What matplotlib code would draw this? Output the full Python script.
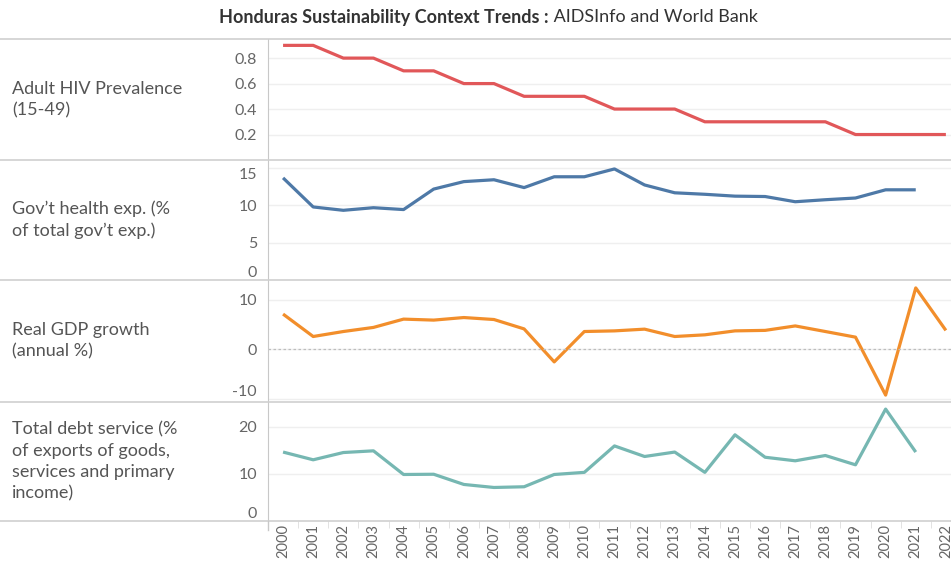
import numpy as np
import matplotlib.pyplot as plt
from matplotlib.lines import Line2D
from matplotlib.ticker import MultipleLocator

plt.rcParams['font.family'] = ['Lato', 'DejaVu Sans']

years = list(range(2000, 2023))

hiv_prev = [0.9, 0.9, 0.8, 0.8, 0.7, 0.7, 0.6, 0.6, 0.5, 0.5, 0.5, 0.4, 0.4, 0.4,
            0.3, 0.3, 0.3, 0.3, 0.3, 0.2, 0.2, 0.2, 0.2]
gov_health = [13.7, 9.8, 9.35, 9.7, 9.45, 12.2, 13.2, 13.45, 12.4, 13.85, 13.85, 14.9,
              12.75, 11.7, 11.5, 11.25, 11.2, 10.5, 10.77, 11.0, 12.1, 12.1]
gdp_growth = [7.1, 2.56, 3.57, 4.4, 6.08, 5.88, 6.4, 6.0, 4.1, -2.58, 3.57, 3.7, 4.05,
              2.56, 2.9, 3.7, 3.8, 4.7, 3.57, 2.43, -9.3, 12.4, 3.8]
debt_service = [14.6, 12.96, 14.5, 14.86, 9.85, 9.9, 7.74, 7.1, 7.25, 9.85, 10.3, 15.9,
                13.66, 14.6, 10.3, 18.25, 13.5, 12.75, 13.87, 11.9, 23.7, 14.6]

labels = ["Adult HIV Prevalence\n(15-49)",
          "Gov\u2019t health exp. (%\nof total gov\u2019t exp.)",
          "Real GDP growth\n(annual %)",
          "Total debt service (%\nof exports of goods,\nservices and primary\nincome)"]
series = [hiv_prev, gov_health, gdp_growth, debt_service]
colors = ["#e15759", "#4e79a7", "#f28e2b", "#76b7b2"]
ylims = [(0, 0.95), (0, 16.1), (-10.7, 14.0), (0, 25.2)]
yticks = [[0.2, 0.4, 0.6, 0.8], [0, 5, 10, 15], [-10, 0, 10], [0, 10, 20]]

W, H = 951, 561
fig = plt.figure(figsize=(W / 100, H / 100), dpi=100)

bounds = [39, 160, 280, 402, 521]
x0 = 268
grey = "#666666"
axes = []
for i in range(4):
    top, bot = bounds[i], bounds[i + 1]
    ax = fig.add_axes([x0 / W, 1 - bot / H, (W - x0) / W, (bot - top) / H])
    vals = series[i]
    ax.plot(years[:len(vals)], vals, color=colors[i], lw=2.3, solid_capstyle='butt')
    ax.set_xlim(1999.5, 2022.17)
    lo, hi = ylims[i]
    ax.set_ylim(lo, hi)
    ax.set_yticks(yticks[i])
    ax.set_yticklabels([f"{t:g}" for t in yticks[i]])
    ax.grid(axis='y', color="#efefef", lw=1)
    ax.set_axisbelow(True)
    for s in ['top', 'right', 'bottom']:
        ax.spines[s].set_visible(False)
    ax.spines['left'].set_color("#c8c8c8")
    ax.tick_params(axis='y', length=0, labelsize=11.5, colors=grey, pad=8)
    ax.tick_params(axis='x', which='both', length=0)
    # keep edge labels inside the pane, like the original
    span = hi - lo
    for t, lab in zip(yticks[i], ax.get_yticklabels()):
        if (t - lo) / span < 0.08:
            lab.set_va('bottom')
        elif (hi - t) / span < 0.1:
            lab.set_va('top')
    if i == 2:
        ax.axhline(0, color="#bdbdbd", lw=0.9, ls=(0, (2, 2)))
    if i < 3:
        ax.set_xticks([])
    fig.text(12 / W, 1 - (top + bot) / 2 / H, labels[i], ha='left', va='center',
             fontsize=13, color="#555555", linespacing=1.42)
    axes.append(ax)

ax = axes[3]
ax.set_xticks(years)
ax.set_xticklabels([str(y) for y in years], rotation=90, fontsize=10.5, color=grey)
ax.xaxis.set_minor_locator(MultipleLocator(1, offset=0.5))
ax.tick_params(axis='x', which='major', length=0, pad=2)
ax.tick_params(axis='x', which='minor', length=5, color="#dddddd", direction='out')

# horizontal separators across the full width
for b in bounds:
    fig.add_artist(Line2D([0, 1], [1 - b / H, 1 - b / H], color="#d0d0d0", lw=1.2))
# axis line extends a little into the tick area
fig.add_artist(Line2D([x0 / W, x0 / W], [1 - 521 / H, 1 - 530 / H], color="#c8c8c8", lw=1))

fig.text(549 / W, 1 - 17 / H, "Honduras Sustainability Context Trends :", ha='right', va='center',
         fontsize=13, fontweight='bold', color="#333333")
fig.text(549 / W, 1 - 17 / H, " AIDSInfo and World Bank", ha='left', va='center',
         fontsize=13, color="#333333")

fig.savefig("out.png", dpi=100)
